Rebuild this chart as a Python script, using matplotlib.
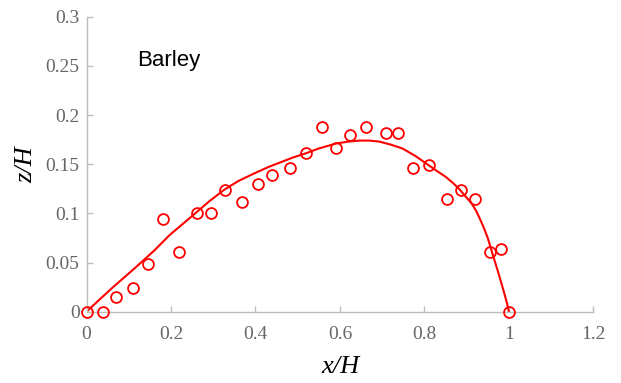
import matplotlib
matplotlib.use("Agg")
import matplotlib.pyplot as plt

# measured points (x/H, z/H)
x_obs = [0.0, 0.039, 0.071, 0.111, 0.146, 0.181, 0.218, 0.261, 0.294, 0.327,
         0.368, 0.407, 0.439, 0.481, 0.519, 0.558, 0.591, 0.625, 0.662, 0.708,
         0.738, 0.774, 0.810, 0.853, 0.886, 0.919, 0.955, 0.981, 1.0]
z_obs = [0.0, 0.0, 0.015, 0.024, 0.048, 0.094, 0.061, 0.100, 0.100, 0.124,
         0.112, 0.130, 0.139, 0.146, 0.161, 0.188, 0.166, 0.180, 0.188, 0.182,
         0.182, 0.146, 0.149, 0.115, 0.124, 0.115, 0.061, 0.064, 0.0]

# fitted profile
x_fit = [0.0, 0.03, 0.063, 0.111, 0.16, 0.197, 0.23, 0.260, 0.29, 0.326,
         0.36, 0.394, 0.43, 0.460, 0.49, 0.519, 0.55, 0.591, 0.62, 0.646,
         0.67, 0.693, 0.72, 0.748, 0.78, 0.810, 0.83, 0.851, 0.87, 0.884,
         0.90, 0.912, 0.922, 0.932, 0.941, 0.95, 0.957, 0.967, 0.977, 0.985,
         0.991, 0.996, 1.0]
z_fit = [0.0, 0.012, 0.025, 0.043, 0.062, 0.078, 0.090, 0.101, 0.112, 0.124,
         0.133, 0.140, 0.147, 0.152, 0.157, 0.161, 0.166, 0.171, 0.173, 0.174,
         0.174, 0.173, 0.170, 0.166, 0.158, 0.149, 0.143, 0.137, 0.130, 0.124,
         0.116, 0.110, 0.103, 0.094, 0.085, 0.075, 0.065, 0.051, 0.037, 0.025,
         0.016, 0.008, 0.0]

x_ticks = [0, 0.2, 0.4, 0.6, 0.8, 1, 1.2]
y_ticks = [0, 0.05, 0.1, 0.15, 0.2, 0.25, 0.3]

serif = "Liberation Serif"
grey = "#666666"
spine_grey = "#bdbdbd"

fig = plt.figure(figsize=(6.21, 3.83), dpi=100)
ax = fig.add_axes([0.1393, 0.1862, 0.8161, 0.7702])

ax.plot(x_fit, z_fit, color="red", lw=1.5, zorder=2,
        solid_joinstyle="round")
ax.plot(x_obs, z_obs, "o", mfc="none", mec="red", mew=1.3, ms=7.8,
        clip_on=False, zorder=3)

ax.set_xlim(0, 1.2)
ax.set_ylim(0, 0.3)
ax.set_xticks(x_ticks)
ax.set_yticks(y_ticks)
ax.set_xticklabels([f"{t:g}" for t in x_ticks])
ax.set_yticklabels([f"{t:g}" for t in y_ticks])

for side in ("top", "right"):
    ax.spines[side].set_visible(False)
for side in ("left", "bottom"):
    ax.spines[side].set_color(spine_grey)
    ax.spines[side].set_linewidth(1.0)

ax.tick_params(direction="in", length=4, width=1.0, color=spine_grey,
               labelcolor=grey, labelsize=14)
ax.tick_params(axis="x", pad=10.5)
ax.tick_params(axis="y", pad=5)
for lbl in ax.get_xticklabels() + ax.get_yticklabels():
    lbl.set_family(serif)

ax.set_xlabel("x/H", family=serif, style="italic", fontsize=19, color="black")
ax.set_ylabel("z/H", family=serif, style="italic", fontsize=19, color="black")
ax.xaxis.set_label_coords(0.5, -0.15)
ax.yaxis.set_label_coords(-0.098, 0.5)

ax.text(0.121, 0.25, "Barley", family="Liberation Sans", fontsize=16,
        color="black", va="baseline", ha="left")

fig.savefig("out.png", dpi=100)
